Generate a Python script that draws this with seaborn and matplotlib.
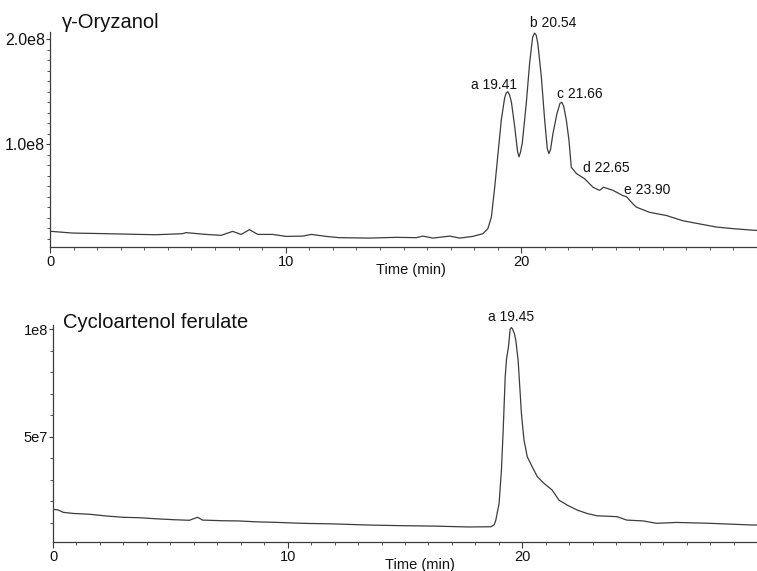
import numpy as np
import pandas as pd
import matplotlib
matplotlib.use("Agg")
import matplotlib.pyplot as plt
from matplotlib.ticker import MultipleLocator, FixedLocator, FixedFormatter
import seaborn as sns

# gamma-oryzanol trace, time (min) / intensity (x1e8)
oryz_time = [0.0, 0.96, 2.38, 3.79, 4.50, 5.63, 5.77, 6.62, 7.26, 7.75, 8.11, 8.46, 8.82,
             9.45, 10.02, 10.73, 11.08, 11.72, 12.28, 13.56, 14.69, 15.54, 15.82, 16.25,
             16.96, 17.38, 17.94, 18.37, 18.58, 18.73, 18.87, 19.01, 19.15, 19.29, 19.36,
             19.43, 19.50, 19.58, 19.72, 19.84, 19.90, 19.96, 20.04, 20.21, 20.35, 20.48,
             20.56, 20.63, 20.70, 20.85, 20.99, 21.10, 21.17, 21.24, 21.34, 21.51, 21.64,
             21.72, 21.80, 21.91, 22.02, 22.12, 22.34, 22.69, 23.04, 23.32, 23.49, 23.89,
             24.31, 24.46, 24.74, 24.88, 25.45, 26.16, 26.86, 27.57, 28.28, 28.98, 29.83,
             30.0]
oryz_int = [0.170, 0.153, 0.147, 0.140, 0.137, 0.147, 0.157, 0.140, 0.131, 0.169, 0.140,
            0.185, 0.140, 0.140, 0.121, 0.124, 0.140, 0.121, 0.109, 0.105, 0.112, 0.109,
            0.124, 0.105, 0.124, 0.105, 0.121, 0.147, 0.195, 0.306, 0.59, 0.91, 1.23, 1.44,
            1.49, 1.50, 1.47, 1.40, 1.165, 0.93, 0.88, 0.92, 1.01, 1.39, 1.77, 2.02, 2.06,
            2.04, 1.96, 1.64, 1.23, 0.96, 0.91, 0.95, 1.10, 1.29, 1.39, 1.40, 1.36, 1.23,
            1.04, 0.78, 0.72, 0.67, 0.59, 0.56, 0.59, 0.56, 0.51, 0.50, 0.43, 0.40, 0.35,
            0.32, 0.27, 0.24, 0.21, 0.195, 0.18, 0.178]

# cycloartenol ferulate trace, time (min) / intensity (x1e7)
cyclo_time = [0.0, 0.22, 0.44, 0.86, 1.57, 2.28, 2.98, 3.69, 4.39, 5.10, 5.81, 6.16, 6.37,
              7.22, 7.92, 8.63, 9.62, 10.61, 12.02, 13.43, 14.84, 16.26, 17.67, 18.66,
              18.80, 18.87, 19.01, 19.11, 19.19, 19.27, 19.33, 19.41, 19.48, 19.53, 19.58,
              19.66, 19.72, 19.82, 19.90, 19.96, 20.07, 20.21, 20.42, 20.64, 20.92, 21.27,
              21.56, 21.91, 22.33, 22.75, 23.18, 24.03, 24.45, 25.16, 25.72, 26.57, 27.98,
              29.82, 30.0]
cyclo_int = [1.62, 1.59, 1.48, 1.43, 1.39, 1.31, 1.25, 1.23, 1.18, 1.14, 1.11, 1.25, 1.12,
             1.09, 1.08, 1.04, 1.01, 0.97, 0.94, 0.89, 0.86, 0.84, 0.80, 0.81, 0.90, 1.12,
             1.90, 3.45, 5.47, 7.79, 8.65, 9.19, 10.0, 10.08, 10.02, 9.80, 9.50, 8.57, 7.17,
             6.09, 4.85, 4.07, 3.60, 3.14, 2.83, 2.52, 2.05, 1.82, 1.59, 1.43, 1.32, 1.28,
             1.12, 1.08, 0.97, 1.01, 0.97, 0.89, 0.89]

# peak labels
oryz_peaks = ["a", "b", "c", "d", "e"]
oryz_rt = [19.41, 20.54, 21.66, 22.65, 23.90]
oryz_height = [1.50, 2.06, 1.40, 0.675, 0.56]
cyclo_peaks = ["a"]
cyclo_rt = [19.45]
cyclo_height = [10.05]

# label centre offsets in pixels from the peak (layout only)
oryz_offsets = [(-13, 7), (19, 10), (19, 8), (23, 10), (34, 0)]
cyclo_offsets = [(2, 11)]

sns.set_style("ticks")
plt.rcParams["font.family"] = ["Liberation Sans", "DejaVu Sans"]

LINE = "#3c3c3c"
TXT = "#111111"
W, H = 757, 571
fig = plt.figure(figsize=(W / 100, H / 100), dpi=100)

ax1 = fig.add_axes([50 / W, 1 - 247 / H, 707 / W, 215 / H])
ax2 = fig.add_axes([53 / W, 1 - 542 / H, 704 / W, 217 / H])

df1 = pd.DataFrame({"t": oryz_time, "y": np.array(oryz_int) * 1e8})
df2 = pd.DataFrame({"t": cyclo_time, "y": np.array(cyclo_int) * 1e7})

sns.lineplot(data=df1, x="t", y="y", ax=ax1, color=LINE, lw=0.9, sort=False)
sns.lineplot(data=df2, x="t", y="y", ax=ax2, color=LINE, lw=0.9, sort=False)

ax1.set_ylim(2e6, 2.07e8)
ax2.set_ylim(1e6, 1.02e8)

for ax, xlab_pos, yticks, ylabels, ysize in [
    (ax1, 0.511, [1e8, 2e8], ["1.0e8", "2.0e8"], 11.5),
    (ax2, 0.521, [5e7, 1e8], ["5e7", "1e8"], 10.5),
]:
    ax.set_xlim(0, 30)
    sns.despine(ax=ax)
    for s in ["left", "bottom"]:
        ax.spines[s].set_color(LINE)
        ax.spines[s].set_linewidth(0.9)
    ax.xaxis.set_major_locator(FixedLocator([0, 10, 20]))
    ax.xaxis.set_minor_locator(MultipleLocator(1))
    ax.yaxis.set_major_locator(FixedLocator(yticks))
    ax.yaxis.set_major_formatter(FixedFormatter(ylabels))
    ax.yaxis.set_minor_locator(MultipleLocator(1e7))
    ax.tick_params(axis="x", which="major", length=4, width=0.8, color=LINE,
                   labelsize=10.5, pad=2, labelcolor=TXT)
    ax.tick_params(axis="y", which="major", length=3, width=0.8, color=LINE,
                   labelsize=ysize, pad=0.5, labelcolor=TXT)
    ax.tick_params(axis="both", which="minor", length=2, width=0.6, color=LINE)
    ax.set_xlabel("Time (min)", fontsize=10.5, color=TXT)
    ax.xaxis.set_label_coords(xlab_pos, -0.075)
    ax.set_ylabel("")

for name, rt, h, off in zip(oryz_peaks, oryz_rt, oryz_height, oryz_offsets):
    ax1.annotate(f"{name} {rt:.2f}", xy=(rt, h * 1e8), xytext=off,
                 textcoords="offset pixels", ha="center", va="center",
                 fontsize=10, color=TXT)
for name, rt, h, off in zip(cyclo_peaks, cyclo_rt, cyclo_height, cyclo_offsets):
    ax2.annotate(f"{name} {rt:.2f}", xy=(rt, h * 1e7), xytext=off,
                 textcoords="offset pixels", ha="center", va="center",
                 fontsize=10, color=TXT)

fig.text(62 / W, 1 - 28 / H, "γ-Oryzanol", fontsize=14.5, va="baseline", ha="left",
         color=TXT)
fig.text(63 / W, 1 - 328 / H, "Cycloartenol ferulate", fontsize=14.5, va="baseline",
         ha="left", color=TXT)

fig.savefig("out.png", dpi=100, facecolor="white")
